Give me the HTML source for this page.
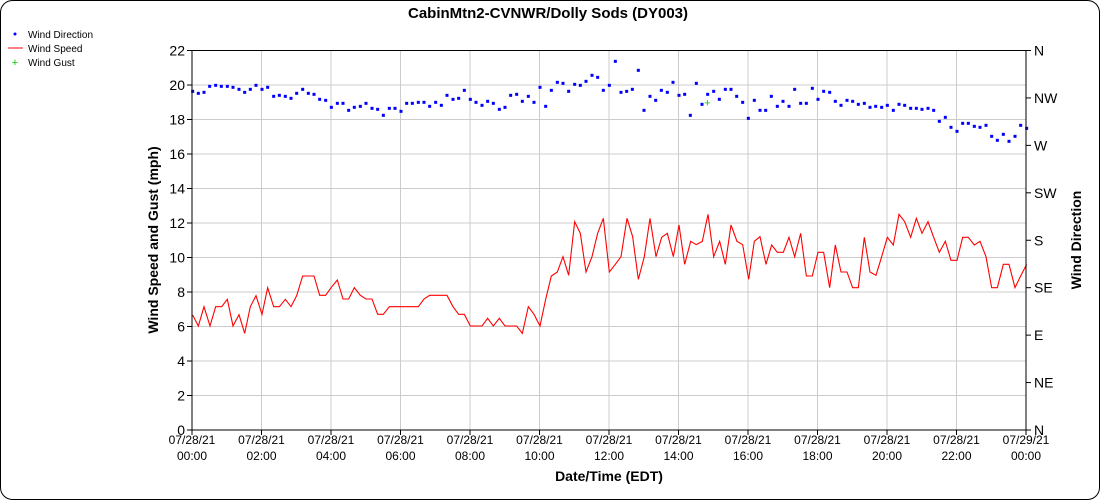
<!DOCTYPE html>
<html><head><meta charset="utf-8"><style>
html,body{margin:0;padding:0;background:#fff;}
svg{display:block;font-family:"Liberation Sans",sans-serif;}
</style></head><body>
<svg id="s" width="1100" height="500" xmlns="http://www.w3.org/2000/svg">
<rect x="0.5" y="0.5" width="1099" height="499" rx="12" fill="#fff" stroke="#000"/>
<text x="548" y="18" font-size="15" font-weight="bold" text-anchor="middle">CabinMtn2-CVNWR/Dolly Sods (DY003)</text>
<g font-size="10">
<circle cx="15" cy="34" r="1.5" fill="#00f"/><text x="28" y="38">Wind Direction</text>
<line x1="8" y1="48" x2="23" y2="48" stroke="#f00"/><text x="28" y="52">Wind Speed</text>
<text x="15" y="66" fill="#0c0" text-anchor="middle" font-size="11">+</text><text x="28" y="66">Wind Gust</text>
</g>
<g id="grid" stroke="#ccc" stroke-width="1"></g>
<g id="spd" transform="translate(190,200) scale(0.33333)">
<polyline fill="none" stroke="#f00" stroke-width="3.3" points="8,345 25,378 42,320 60,378 77,320 95,320 112,298 129,378 147,344 164,400 181,320 198,287 216,343 233,263 251,320 268,320 286,298 303,320 320,287 338,228 355,228 372,228 389,286 407,286 424,262 442,240 459,297 476,297 493,263 511,286 528,297 546,297 563,343 580,343 598,320 615,320 632,320 650,320 667,320 685,320 702,297 719,286 737,286 754,286 771,286 789,320 806,343 823,343 841,378 858,378 876,378 893,355 910,378 928,355 945,378 962,378 980,378 997,400 1015,320 1032,343 1050,378 1067,298 1084,228 1102,216 1119,170 1136,226 1154,65 1171,100 1188,216 1206,170 1223,100 1240,55 1258,216 1276,193 1293,170 1311,55 1328,110 1345,238 1363,170 1380,55 1398,170 1415,112 1432,100 1450,170 1467,75 1484,193 1502,124 1519,134 1537,124 1554,43 1571,170 1589,124 1606,193 1623,75 1641,124 1658,134 1676,238 1693,124 1710,110 1728,193 1745,135 1762,157 1780,157 1797,112 1814,170 1832,100 1849,228 1867,228 1884,157 1901,157 1919,263 1936,135 1953,216 1971,216 1988,263 2005,263 2023,112 2040,216 2058,226 2075,170 2092,112 2110,135 2127,43 2144,65 2162,112 2179,55 2196,100 2214,65 2231,112 2248,157 2266,124 2283,181 2301,181 2318,112 2335,112 2353,135 2370,124 2388,170 2405,263 2422,263 2440,193 2457,193 2475,263 2492,228 2510,193"/>
</g>
<g id="dir" fill="#00f"></g>
<text x="707.3" y="106.5" fill="#0c0" font-size="11" text-anchor="middle">+</text>
<g id="axes" stroke="#000" fill="none">
<line x1="192" y1="50" x2="192" y2="430"/>
<line x1="192" y1="430" x2="1026" y2="430"/>
<line x1="1026" y1="50" x2="1026" y2="430"/>
<line x1="192" y1="50.5" x2="1026" y2="50.5"/>
</g>
<g id="lab" font-size="14"></g>
<text x="609" y="481" font-size="14" font-weight="bold" text-anchor="middle">Date/Time (EDT)</text>
<text transform="translate(158,240) rotate(-90)" font-size="14" font-weight="bold" text-anchor="middle">Wind Speed and Gust (mph)</text>
<text transform="translate(1081,240) rotate(-90)" font-size="14" font-weight="bold" text-anchor="middle">Wind Direction</text>
</svg>
<script>
var NS="http://www.w3.org/2000/svg";
function el(p,t,a,txt){var e=document.createElementNS(NS,t);for(var k in a)e.setAttribute(k,a[k]);if(txt!==undefined)e.textContent=txt;document.getElementById(p).appendChild(e);return e;}
var x0=192,x1=1026,y0=430,y1=50.5;
for(var i=0;i<=12;i++){var x=x0+i*(x1-x0)/12;
 if(i>0&&i<12)el("grid","line",{x1:x,y1:y1,x2:x,y2:y0});
 el("axes","line",{x1:x,y1:y0,x2:x,y2:y0+5});
 var h=(2*i)%24;var d=i<12?"07/28/21":"07/29/21";
 el("lab","text",{x:x,y:444,"text-anchor":"middle","font-size":"12"},d);
 el("lab","text",{x:x,y:460,"text-anchor":"middle","font-size":"12"},(h<10?"0":"")+h+":00");}
for(var v=0;v<=22;v+=2){var y=y0-v*(y0-y1)/22;
 if(v>0&&v<22)el("grid","line",{x1:x0,y1:y,x2:x1,y2:y});
 el("axes","line",{x1:x0-5,y1:y,x2:x0,y2:y});
 el("lab","text",{x:185,y:y+5,"text-anchor":"end"},v);}
var dn=["N","NE","E","SE","S","SW","W","NW","N"];
for(var j=0;j<=8;j++){var y=y0-j*(y0-y1)/8;
 el("axes","line",{x1:x1,y1:y,x2:x1+5,y2:y});
 el("lab","text",{x:1034,y:y+5},dn[j]);}
var a=[[8,124],[25,130],[42,127],[59,109],[77,106],[94,109],[112,109],[129,112],[147,118],[164,127],[181,118],[198,106],[216,118],[233,112],[251,139],[268,136],[286,139],[303,145],[320,130],[338,118],[355,130],[372,133],[389,148],[407,151],[424,172],[442,160],[459,160],[476,181],[493,172],[511,169],[528,160],[546,175],[563,178],[580,196],[598,175],[615,175],[633,184],[650,160],[667,160],[685,157],[702,157],[719,169],[737,157],[754,166],[771,136],[789,148],[806,145],[823,121],[841,148],[858,157],[876,166],[893,154],[910,160],[928,178],[945,172],[962,136],[980,133],[997,154],[1015,139],[1032,157],[1050,112],[1067,169],[1084,121],[1102,97],[1119,100],[1136,124],[1154,103],[1171,106],[1188,94],[1206,76],[1223,82],[1240,121],[1258,106]];
var b=[[46,34],[63,127],[80,124],[97,118],[115,61],[132,181],[150,139],[167,151],[184,121],[202,127],[219,97],[237,136],[254,133],[271,196],[289,100],[306,163],[323,133],[341,124],[358,148],[376,118],[393,118],[410,139],[428,157],[445,205],[463,151],[480,181],[497,181],[514,139],[532,169],[549,154],[567,169],[584,118],[602,160],[619,160],[637,115],[654,148],[671,124],[689,127],[706,154],[723,166],[741,151],[758,154],[775,163],[793,160],[810,172],[827,169],[845,172],[862,166],[880,181],[897,163],[914,166],[932,175],[949,175],[966,178],[984,175],[1001,181],[1018,214],[1036,202],[1053,232],[1071,244],[1088,220],[1105,220],[1123,229],[1140,232],[1158,226],[1175,259],[1192,271],[1210,253],[1227,274],[1245,259],[1262,226],[1280,235]];
a.forEach(function(p){el("dir","rect",{x:190+p[0]/3-1.5,y:50+p[1]/3-1.5,width:3,height:3});});
b.forEach(function(p){el("dir","rect",{x:600+p[0]/3-1.5,y:50+p[1]/3-1.5,width:3,height:3});});
</script>
</body></html>
